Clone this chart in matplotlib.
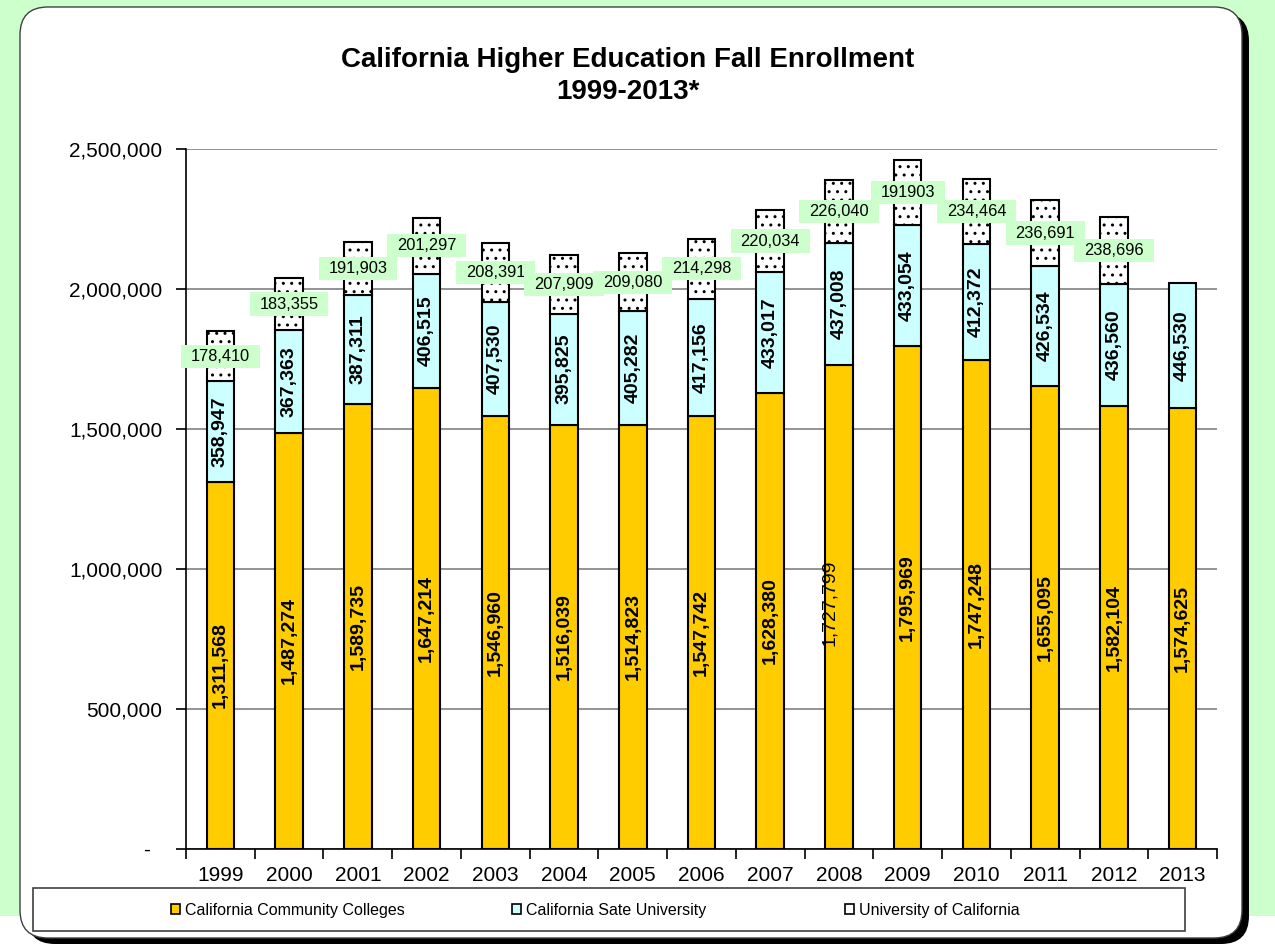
import numpy as np
import matplotlib
matplotlib.use("Agg")
import matplotlib.pyplot as plt
from matplotlib.patches import FancyBboxPatch, Rectangle, Patch
from matplotlib.path import Path
from matplotlib.ticker import FuncFormatter, FixedLocator

plt.rcParams["font.family"] = ["Liberation Sans", "DejaVu Sans"]
plt.rcParams["hatch.linewidth"] = 1.0

# data
years = [str(y) for y in range(1999, 2014)]
ccc = [1311568, 1487274, 1589735, 1647214, 1546960, 1516039, 1514823, 1547742,
       1628380, 1727799, 1795969, 1747248, 1655095, 1582104, 1574625]
csu = [358947, 367363, 387311, 406515, 407530, 395825, 405282, 417156,
       433017, 437008, 433054, 412372, 426534, 436560, 446530]
# 2009 bar is drawn taller than its label says (as in the original)
uc = [178410, 183355, 191903, 201297, 208391, 207909, 209080, 214298,
      220034, 226040, 231000, 234464, 236691, 238696, np.nan]
uc_labels = ["178,410", "183,355", "191,903", "201,297", "208,391", "207,909",
             "209,080", "214,298", "220,034", "226,040", "191903", "234,464",
             "236,691", "238,696", ""]
series_names = ["California Community Colleges", "California Sate University",
                "University of California"]

ccc = np.array(ccc, dtype=float)
csu = np.array(csu, dtype=float)
uc = np.array(uc, dtype=float)

c_ccc = "#ffcc00"
c_csu = "#ccffff"
c_green = "#ccffcc"


def label_box(x0, y0, width, height, mutation_size):
    px, py = 0.6 * mutation_size, 0.25 * mutation_size
    x0, y0 = x0 - px, y0 - py
    x1, y1 = x0 + width + 2 * px, y0 + height + 2 * py
    return Path([(x0, y0), (x1, y0), (x1, y1), (x0, y1), (x0, y0)], closed=True)


fig = plt.figure(figsize=(12.75, 9.44), dpi=100)

# background + rounded chart frame (pixel coords)
bg = fig.add_axes([0, 0, 1, 1], zorder=0)
bg.set_xlim(0, 1275)
bg.set_ylim(944, 0)
bg.axis("off")
bg.add_patch(Rectangle((0, 0), 1275, 916, facecolor=c_green, edgecolor="none"))
bg.add_patch(FancyBboxPatch((27, 13), 1222, 931, boxstyle="round,pad=0,rounding_size=28",
                            facecolor="black", edgecolor="none"))
bg.add_patch(FancyBboxPatch((20, 7), 1222, 931, boxstyle="round,pad=0,rounding_size=28",
                            facecolor="white", edgecolor="#404040", linewidth=1))
bg.add_patch(Rectangle((33, 888), 1152, 43, facecolor="white", edgecolor="#404040", linewidth=1.2))

# main plot
ax = fig.add_axes([186 / 1275, 95 / 944, 1031 / 1275, 700 / 944], zorder=1)
x = np.arange(len(years))
w = 0.4
top_csu = ccc + csu
has_uc = ~np.isnan(uc)

ax.bar(x, ccc, w, color=c_ccc, edgecolor="black", linewidth=1.5)
ax.bar(x, csu, w, bottom=ccc, color=c_csu, edgecolor="black", linewidth=1.5)
ax.bar(x[has_uc], uc[has_uc], w, bottom=top_csu[has_uc], color="white",
       edgecolor="black", linewidth=1.5, hatch="..")

for i in range(len(years)):
    lab = f"{int(ccc[i]):,}"
    if years[i] == "2008":
        ax.annotate(lab, (x[i], ccc[i] / 2), xytext=(-7, 3), textcoords="offset points",
                    rotation=90, ha="center", va="center", fontsize=14)
    else:
        ax.text(x[i], ccc[i] / 2, lab, rotation=90, ha="center", va="center",
                fontsize=14, fontweight="bold")
    ax.text(x[i], ccc[i] + csu[i] / 2, f"{int(csu[i]):,}", rotation=90, ha="center",
            va="center", fontsize=14, fontweight="bold")
    if has_uc[i]:
        ax.text(x[i], top_csu[i] + uc[i] / 2, uc_labels[i], ha="center", va="center",
                fontsize=11.8, zorder=5,
                bbox=dict(boxstyle=label_box, facecolor=c_green, edgecolor="none"))

ax.set_xlim(-0.5, 14.5)
ax.set_ylim(0, 2500000)
ax.set_xticks(x)
ax.set_xticklabels(years)
ax.xaxis.set_minor_locator(FixedLocator(np.arange(-0.5, 15, 1)))
ax.tick_params(axis="x", which="major", length=0, pad=12, labelsize=15)
ax.tick_params(axis="x", which="minor", length=7, width=1.2, direction="out")
ax.set_yticks(range(0, 2500001, 500000))
ax.yaxis.set_major_formatter(FuncFormatter(lambda v, p: "-  " if v == 0 else f"{v:,.0f}"))
ax.tick_params(axis="y", length=7, width=1.2, pad=10, labelsize=15)
ax.grid(axis="y", color="#808080", linewidth=1.2)
ax.set_axisbelow(True)
for s in ["top", "right"]:
    ax.spines[s].set_visible(False)
for s in ["left", "bottom"]:
    ax.spines[s].set_linewidth(1.2)

# title
fig.text(628 / 1275, 1 - 76 / 944, "California Higher Education Fall Enrollment\n1999-2013*",
         ha="center", va="center", fontsize=20, fontweight="bold", linespacing=1.3)

# legend, one entry per slot like the original layout
handles = [Patch(facecolor=c_ccc, edgecolor="black", linewidth=1.2),
           Patch(facecolor=c_csu, edgecolor="black", linewidth=1.2),
           Patch(facecolor="white", edgecolor="black", linewidth=1.2)]
legend_x = [171, 512, 845]
for h, name, lx in zip(handles, series_names, legend_x):
    fig.legend([h], [name], loc="center left", bbox_to_anchor=(lx / 1275, 1 - 910 / 944),
               frameon=False, fontsize=11.5, handlelength=0.55, handleheight=0.55,
               handletextpad=0.3, borderpad=0, borderaxespad=0)

fig.savefig("out.png", dpi=100)
